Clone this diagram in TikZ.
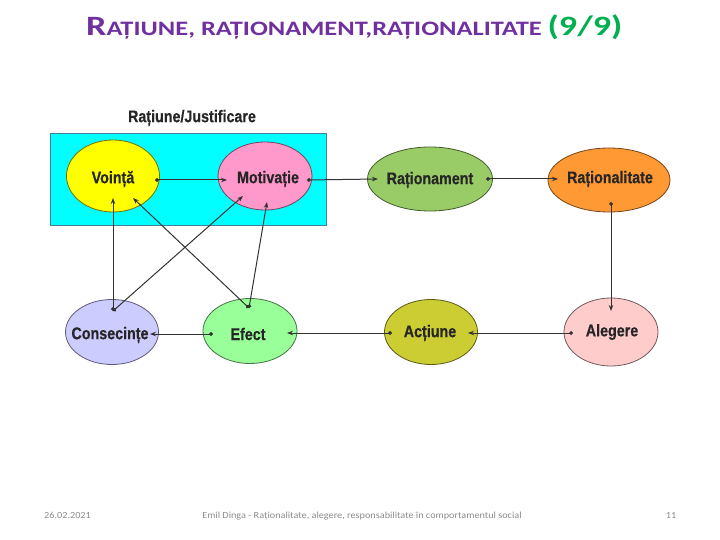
\documentclass[tikz,border=0pt]{standalone}
\usepackage{fontspec}
\setmainfont{Carlito}
\newfontfamily\narrowfont[FakeStretch=0.85, BoldFeatures={FakeStretch=0.85,FakeBold=0.5}]{Liberation Sans}
\newfontfamily\titlefont[FakeStretch=1.29, BoldFeatures={FakeStretch=1.29}]{Carlito}
\newfontfamily\footfont[FakeStretch=1.1]{Carlito}
\usetikzlibrary{shapes.geometric,arrows.meta}
\definecolor{titlepurple}{HTML}{7030A0}
\definecolor{titlegreen}{HTML}{00B050}
\definecolor{footgray}{HTML}{8C8C8C}
\definecolor{txt}{HTML}{262626}
\definecolor{linec}{HTML}{333333}
\definecolor{cyanbox}{HTML}{00FFFF}
\definecolor{cvoi}{HTML}{FFFF00}
\definecolor{cmot}{HTML}{FF99CC}
\definecolor{crat}{HTML}{99CC66}
\definecolor{cral}{HTML}{FF9933}
\definecolor{cale}{HTML}{FFCCCC}
\definecolor{cact}{HTML}{CCCC33}
\definecolor{cefe}{HTML}{99FF99}
\definecolor{ccon}{HTML}{CCCCFF}
\begin{document}
\begin{tikzpicture}[x=1pt,y=-1pt,
  oval/.style={ellipse, inner sep=0pt, line width=0.8pt},
  lbl/.style={font=\narrowfont\bfseries\fontsize{16.8}{17}\selectfont, text=txt},
  conn/.style={draw=linec, line width=1pt, {Circle[length=3.8pt]}-{Stealth[length=6pt,width=4.5pt]}},
  foot/.style={anchor=base, inner sep=0pt, text=footgray, font=\footfont\fontsize{9.3}{10}\selectfont}
]
\useasboundingbox (0,0) rectangle (720,540);
\fill[white] (0,0) rectangle (720,540);

% title
\node[anchor=base west, inner sep=0pt, font=\titlefont\bfseries] (title) at (86,36)
  {\color{titlepurple}\fontsize{28}{30}\selectfont R\fontsize{20.5}{22}\selectfont AȚIUNE, RAȚIONAMENT,RAȚIONALITATE \color{titlegreen}\fontsize{28}{30}\selectfont(9/9)};

% box
\node[draw=cyan!55!black, fill=cyanbox, line width=0.6pt, minimum width=276, minimum height=92, inner sep=0pt] (box) at (188,179) {};
\node[lbl] (boxlabel) at (192,118) {Rațiune/Justificare};

% ellipses
\node[oval, fill=cvoi, draw=cvoi!45!black, minimum width=93, minimum height=72] (voi) at (113,176) {};
\node[lbl] (voiT) at (113,179) {Voință};
\node[oval, fill=cmot, draw=cmot!45!black, minimum width=94, minimum height=68] (mot) at (265,176) {};
\node[lbl] (motT) at (268,179) {Motivație};
\node[oval, fill=crat, draw=crat!45!black, minimum width=125, minimum height=64] (rat) at (430,179) {};
\node[lbl] (ratT) at (430,180) {Raționament};
\node[oval, fill=cral, draw=cral!45!black, minimum width=122, minimum height=64] (ral) at (609,180) {};
\node[lbl] (ralT) at (610,179) {Raționalitate};
\node[oval, fill=cale, draw=cale!45!black, minimum width=94, minimum height=68] (ale) at (611,332) {};
\node[lbl] (aleT) at (612,332) {Alegere};
\node[oval, fill=cact, draw=cact!45!black, minimum width=93, minimum height=65] (act) at (431,332) {};
\node[lbl] (actT) at (430,333) {Acțiune};
\node[oval, fill=cefe, draw=cefe!45!black, minimum width=94, minimum height=65] (efe) at (250,331) {};
\node[lbl] (efeT) at (248,334) {Efect};
\node[oval, fill=ccon, draw=ccon!45!black, minimum width=93, minimum height=65] (con) at (112,332) {};
\node[lbl] (conT) at (110,335) {Consecințe};

% connection points
\coordinate (voiR) at (155,180);
\coordinate (motL) at (227,180);
\coordinate (motR) at (307,180);
\coordinate (ratL) at (378,179);
\coordinate (ratR) at (486,179);
\coordinate (ralL) at (558,179);
\coordinate (ralB) at (611,202);
\coordinate (aleTop) at (611,311);
\coordinate (aleL) at (573,333);
\coordinate (actR) at (468,333);
\coordinate (actL) at (392,333);
\coordinate (efeR) at (287,333);
\coordinate (efeL) at (213,334);
\coordinate (conR) at (150,334);
\coordinate (conTop) at (113,311);
\coordinate (voiB) at (113,198);
\coordinate (voiBR) at (133,198);
\coordinate (motBL) at (243,196);
\coordinate (efeTop) at (249,308);
\coordinate (motB) at (267,202);

% connectors
\draw[conn] (voiR) -- (motL);
\draw[conn] (motR) -- (ratL);
\draw[conn] (ratR) -- (ralL);
\draw[conn] (ralB) -- (aleTop);
\draw[conn] (aleL) -- (actR);
\draw[conn] (actL) -- (efeR);
\draw[conn] (efeL) -- (conR);
\draw[conn] (conTop) -- (voiB);
\draw[conn] (conTop) -- (motBL);
\draw[conn] (efeTop) -- (voiBR);
\draw[conn] (efeTop) -- (motB);

% footer
\node[foot, anchor=base west] (date) at (44,518) {26.02.2021};
\node[foot] (footer) at (362,518) {Emil Dinga - Raționalitate, alegere, responsabilitate în comportamentul social};
\node[foot] (page) at (671,518) {11};
\end{tikzpicture}
\end{document}
